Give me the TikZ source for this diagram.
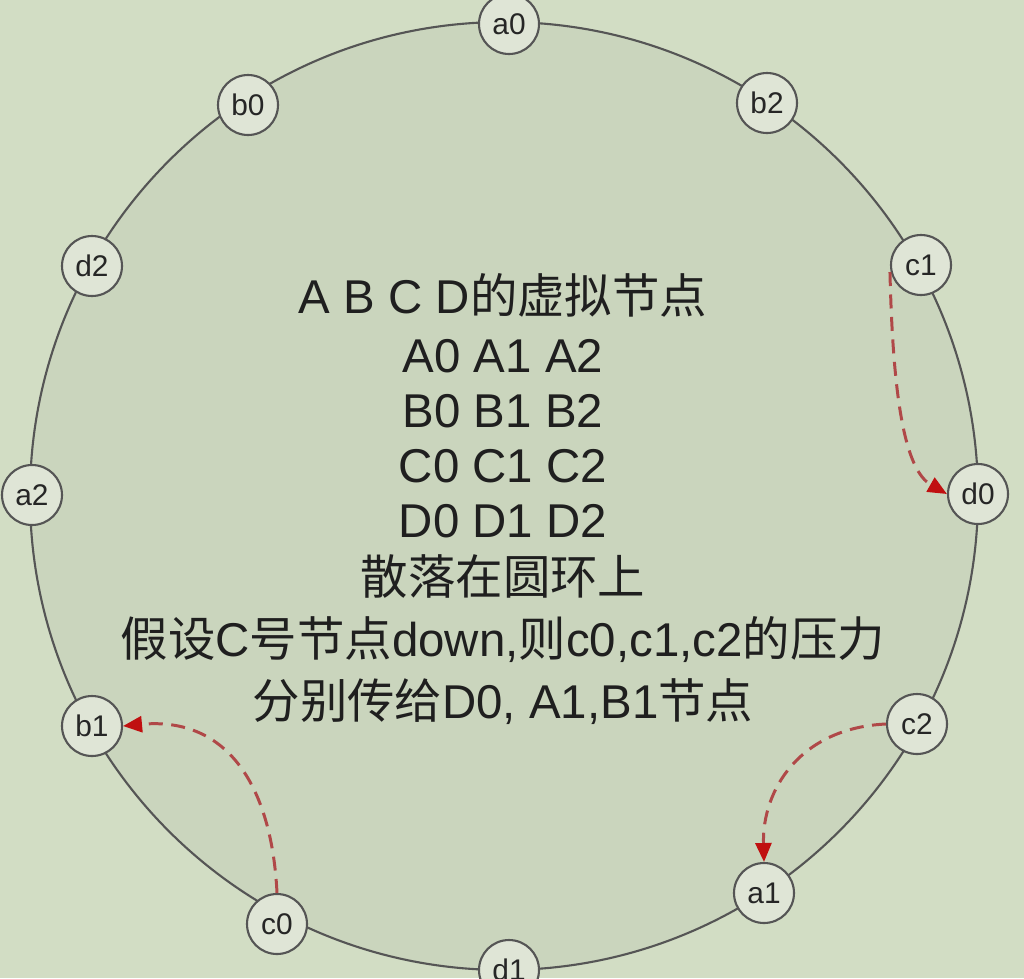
\documentclass[tikz,border=0pt]{standalone}
\usepackage{fontspec}
\setmainfont{Liberation Sans}
\newfontfamily\cjk{Noto Sans CJK SC}
\usetikzlibrary{arrows.meta}
\definecolor{bgc}{HTML}{D2DDC4}
\definecolor{ringfill}{HTML}{CAD5BD}
\definecolor{nodefill}{HTML}{DFE5D6}
\definecolor{ringline}{HTML}{555555}
\definecolor{dashred}{HTML}{B04848}
\definecolor{tipred}{HTML}{C01010}
\tikzset{
  vnode/.style={circle, draw=ringline, line width=1.2pt, fill=nodefill,
    minimum size=1.2cm, inner sep=0pt, font=\fontsize{17}{19}\selectfont, text=black!85},
  txt/.style={anchor=base, font=\fontsize{27}{32}\selectfont, text=black!88},
  move/.style={draw=dashred, line width=1.7pt, dash pattern=on 0.28cm off 0.17cm,
    -{Triangle[length=0.38cm,width=0.32cm,fill=tipred,color=tipred]}}
}
\begin{document}
\begin{tikzpicture}[x=0.02cm,y=-0.02cm]
\useasboundingbox (0,0) rectangle (1024,978);
\fill[bgc] (0,0) rectangle (1024,978);
\draw[ringline, line width=1.2pt, fill=ringfill] (504,496) circle[radius=474];
% ring nodes
\node[vnode] (a0) at (509,24) {a0};
\node[vnode] (b2) at (767,103) {b2};
\node[vnode] (c1) at (921,265) {c1};
\node[vnode] (d0) at (978,494) {d0};
\node[vnode] (c2) at (917,724) {c2};
\node[vnode] (a1) at (764,893) {a1};
\node[vnode] (d1) at (509,970) {d1};
\node[vnode] (c0) at (277,924) {c0};
\node[vnode] (b1) at (92,726) {b1};
\node[vnode] (a2) at (32,495) {a2};
\node[vnode] (d2) at (92,266) {d2};
\node[vnode] (b0) at (248,105) {b0};
% text
\node[txt] (t1) at (503,313) {A B C D{\cjk 的虚拟节点}};
\node[txt] (t2) at (503,372) {A0 A1 A2};
\node[txt] (t3) at (503,427) {B0 B1 B2};
\node[txt] (t4) at (503,482) {C0 C1 C2};
\node[txt] (t5) at (503,537) {D0 D1 D2};
\node[txt] (t6) at (503,594) {\cjk 散落在圆环上};
\node[txt] (t7) at (503,656) {{\cjk 假设}C{\cjk 号节点}down,{\cjk 则}c0,c1,c2{\cjk 的压力}};
\node[txt] (t8) at (503,718) {{\cjk 分别传给}D0, A1,B1{\cjk 节点}};
% moves
\draw[move] (c1.west |- 0,272) .. controls (893,400) and (905,470) .. (d0.west);
\draw[move] (c0.north) .. controls (272,790) and (230,716) .. (b1.east);
\draw[move] (c2.west) .. controls (800,728) and (762,790) .. (a1.north);
\end{tikzpicture}
\end{document}
